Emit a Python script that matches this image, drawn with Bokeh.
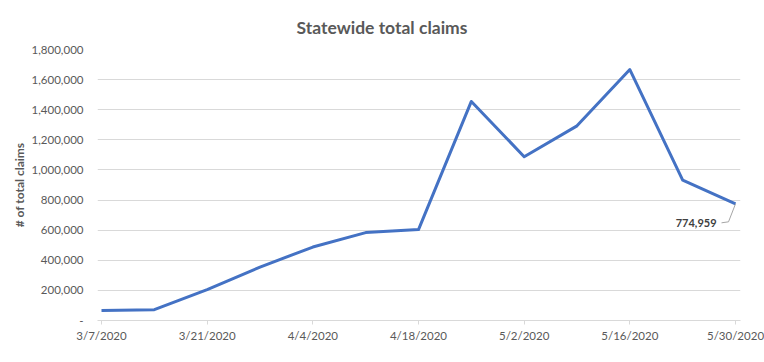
import pandas as pd
from bokeh.plotting import figure
from bokeh.models import Range1d, FixedTicker, NumeralTickFormatter, Label, Title
from bokeh.embed import file_html
from bokeh.resources import INLINE

# ---- data ----
dates = ["3/7/2020", "3/14/2020", "3/21/2020", "3/28/2020", "4/4/2020", "4/11/2020",
         "4/18/2020", "4/25/2020", "5/2/2020", "5/9/2020", "5/16/2020", "5/23/2020", "5/30/2020"]
claims = [66000, 72000, 205000, 355000, 488000, 584000,
          604000, 1455000, 1088000, 1293000, 1667000, 932000, 774959]
tick_dates = ["3/7/2020", "3/21/2020", "4/4/2020", "4/18/2020", "5/2/2020", "5/16/2020", "5/30/2020"]
y_ticks = [0, 200000, 400000, 600000, 800000, 1000000, 1200000, 1400000, 1600000, 1800000]
title_text = "Statewide total claims"
y_label = "# of total claims"

# ---- layout ----
FW, FH = 643, 271
x = pd.to_datetime(dates, format="%m/%d/%Y")
DAY = 86400000.0
x_ms = [t.value / 1e6 for t in x]
x0 = x_ms[0] - 0.53 * DAY
x1 = x_ms[-1] + 0.66 * DAY
ms_per_px = (x1 - x0) / FW
val_per_px = (y_ticks[-1] - y_ticks[0]) / FH

p = figure(frame_width=FW, frame_height=FH, output_backend="svg", toolbar_location=None,
           x_range=Range1d(x0, x1), y_range=Range1d(y_ticks[0], y_ticks[-1]),
           min_border_left=97, min_border_right=24, min_border_top=49, min_border_bottom=42,
           background_fill_color="white", border_fill_color="white")
p.outline_line_color = None

GRAY = "#595959"
# title
p.title.visible = False
t = Title(text=title_text, align="left", offset=199, text_font="Lato", text_font_size="17.5px",
          text_font_style="bold", text_color=GRAY, standoff=24)
p.add_layout(t, "above")

# grid
p.xgrid.grid_line_color = None
p.ygrid.grid_line_color = "#d9d9d9"
p.ygrid.grid_line_width = 1
p.ygrid.ticker = FixedTicker(ticks=y_ticks)

# y axis
p.yaxis.ticker = FixedTicker(ticks=y_ticks)
p.yaxis.formatter = NumeralTickFormatter(format="0,0")
p.yaxis.major_label_overrides = {0: "-"}
p.yaxis.axis_line_color = None
p.yaxis.major_tick_line_color = None
p.yaxis.major_tick_out = 0
p.yaxis.major_tick_in = 0
p.yaxis.minor_tick_line_color = None
p.yaxis.minor_tick_out = 0
p.yaxis.major_label_standoff = 14
p.yaxis.major_label_text_font = "Lato"
p.yaxis.major_label_text_font_size = "11.5px"
p.yaxis.major_label_text_color = GRAY
p.yaxis.axis_label = y_label
p.yaxis.axis_label_text_font = "Lato"
p.yaxis.axis_label_text_font_size = "12px"
p.yaxis.axis_label_text_font_style = "bold"
p.yaxis.axis_label_text_color = GRAY
p.yaxis.axis_label_standoff = 2

# x axis
tick_ms = [t.value / 1e6 for t in pd.to_datetime(tick_dates, format="%m/%d/%Y")]
p.xaxis.ticker = FixedTicker(ticks=tick_ms)
p.xaxis.major_label_overrides = {ms: lab for ms, lab in zip(tick_ms, tick_dates)}
p.xaxis.axis_line_color = "#d9d9d9"
p.xaxis.major_tick_line_color = "#d9d9d9"
p.xaxis.major_tick_in = 0
p.xaxis.major_tick_out = 4
p.xaxis.minor_tick_line_color = None
p.xaxis.major_label_standoff = 4
p.xaxis.major_label_text_font = "Lato"
p.xaxis.major_label_text_font_size = "11.5px"
p.xaxis.major_label_text_color = GRAY

# series
p.line(x_ms, claims, line_color="#4472C4", line_width=3, line_join="round")

# data label with leader line
lx, ly = x_ms[-1], claims[-1]
p.line([lx, lx - 7 * ms_per_px, lx - 14 * ms_per_px],
       [ly, ly - 18 * val_per_px, ly - 19 * val_per_px],
       line_color="#a6a6a6", line_width=1)
p.add_layout(Label(x=lx, y=ly, x_offset=-19, y_offset=-19, text=f"{claims[-1]:,}",
                   text_align="right", text_baseline="middle", text_font="Lato",
                   text_font_size="11px", text_font_style="bold", text_color="#404040"))

open("out.html", "w").write(file_html(p, INLINE))
